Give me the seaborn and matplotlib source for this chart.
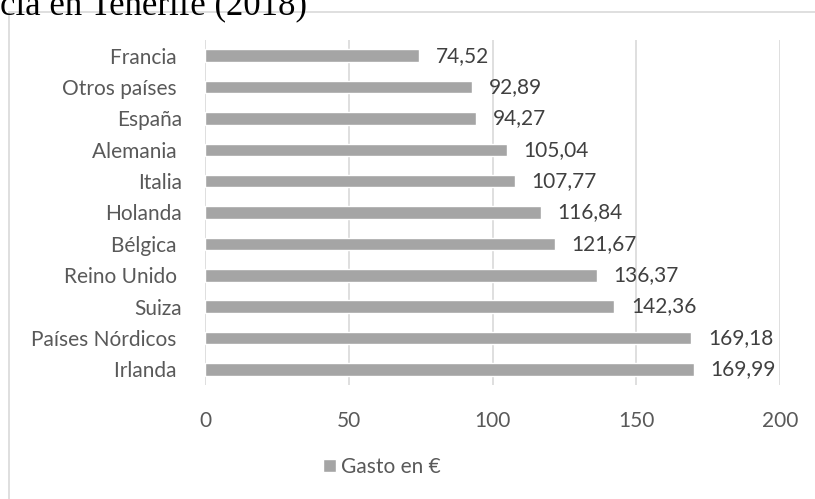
import matplotlib
matplotlib.use("Agg")
import matplotlib.pyplot as plt
import seaborn as sns
import pandas as pd
from matplotlib.patches import Rectangle

categories = ["Francia ", "Otros países ", "España", "Alemania ", "Italia", "Holanda",
              "Bélgica ", "Reino Unido ", "Suiza", "Países Nórdicos ", "Irlanda "]
values = [74.52, 92.89, 94.27, 105.04, 107.77, 116.84, 121.67, 136.37, 142.36, 169.18, 169.99]
xticks = [0, 50, 100, 150, 200]
series_name = "Gasto en €"
title_fragment = "cia en Tenerife (2018)"

sns.set_style("white")
plt.rcParams['font.family'] = ['Lato', 'DejaVu Sans']

df = pd.DataFrame({"pais": categories, "gasto": values})

fig = plt.figure(figsize=(8.15, 4.99), dpi=100)
ax = fig.add_axes([205/815, 1-385/499, (780-205)/815, (385-40)/499])

bar_color = "#a5a5a5"
sns.barplot(data=df, y="pais", x="gasto", orient="h", color=bar_color,
            width=0.4, ax=ax, label=series_name, saturation=1)
if ax.get_legend() is not None:
    ax.get_legend().remove()

ax.set_xlim(0, 200)
ax.set_xticks(xticks)
ax.set_xticklabels([str(t) for t in xticks])
ax.set_ylim(len(categories) - 0.5, -0.5)
ax.grid(axis="x", color="#d9d9d9", linewidth=1.2)
ax.set_axisbelow(True)
for s in ["top", "right", "bottom", "left"]:
    ax.spines[s].set_visible(False)
ax.set_xlabel("")
ax.set_ylabel("")
ax.tick_params(axis="both", length=0, labelsize=15, labelcolor="#595959")
ax.tick_params(axis="y", pad=16.5)
ax.tick_params(axis="x", pad=19)

for i, v in enumerate(values):
    ax.annotate(f"{v:.2f}".replace(".", ","), xy=(v, i), xytext=(12, 0),
                textcoords="offset points", va="center", ha="left",
                fontsize=15, color="#404040")

handles, labels = ax.get_legend_handles_labels()
fig.legend(handles, labels, loc="center", bbox_to_anchor=(382/815, 1-467/499),
           frameon=False, fontsize=15, labelcolor="#595959",
           handlelength=0.6, handleheight=0.6, handletextpad=0.25)

# chart border (partially outside the image)
fig.patches.append(Rectangle((9/815, -0.2), 1.2, 1.2 - 12/499,
                             transform=fig.transFigure, fill=False,
                             edgecolor="#d9d9d9", linewidth=1.2, clip_on=False))

fig.text(0, 1 - 14/499, title_fragment, family=["Liberation Serif", "DejaVu Serif"],
         fontsize=25, color="black", ha="left", va="baseline")

fig.savefig("out.png", dpi=100, facecolor="white")
